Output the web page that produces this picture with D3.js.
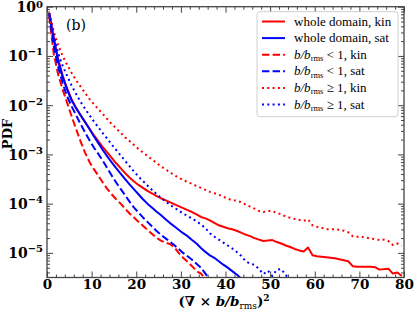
<!DOCTYPE html>
<html><head><meta charset="utf-8">
<script src="https://cdn.jsdelivr.net/npm/d3@7"></script>
<style>body{margin:0;background:#fff}</style>
</head><body>
<svg id="c" width="415" height="312"></svg>
<script>
// bin centres of the PDF histograms
const binCenters = [0.5,1.5,2.5,3.5,4.5,5.5,6.5,7.5,8.5,9.5,
 10.5,11.5,12.5,13.5,14.5,15.5,16.5,17.5,18.5,19.5,
 20.5,21.5,22.5,23.5,24.5,25.5,26.5,27.5,28.5,29.5,
 30.5,31.5,32.5,33.5,34.5,35.5,36.5,37.5,38.5,39.5,
 40.5,41.5,42.5,43.5,44.5,45.5,46.5,47.5,48.5,49.5,
 50.5,51.5,52.5,53.5,54.5,55.5,56.5,57.5,58.5,59.5,
 60.5,61.5,62.5,63.5,64.5,65.5,66.5,67.5,68.5,69.5,
 70.5,71.5,72.5,73.5,74.5,75.5,76.5,77.5,78.5,79.5];

// log10(PDF)
const log10WholeKin = [-0.13,-0.62,-1.07,-1.40,-1.66,-1.88,-2.05,-2.20,-2.34,-2.48,
 -2.61,-2.73,-2.85,-2.96,-3.07,-3.18,-3.28,-3.38,-3.47,-3.55,
 -3.62,-3.68,-3.74,-3.79,-3.84,-3.89,-3.93,-3.97,-4.01,-4.05,
 -4.09,-4.13,-4.17,-4.22,-4.27,-4.30,-4.34,-4.39,-4.44,-4.47,
 -4.50,-4.52,-4.55,-4.59,-4.63,-4.66,-4.70,-4.73,-4.76,-4.75,
 -4.74,-4.78,-4.81,-4.85,-4.88,-4.92,-4.95,-4.97,-4.89,-5.05,
 -5.07,-5.08,-5.09,-5.10,-5.11,-5.13,-5.15,-5.17,-5.27,-5.28,
 -5.28,-5.28,-5.28,-5.29,-5.34,-5.33,-5.32,-5.42,-5.40,-5.47];
const log10WholeSat = [-0.15,-0.65,-1.10,-1.42,-1.68,-1.90,-2.06,-2.20,-2.34,-2.48,
 -2.63,-2.77,-2.91,-3.04,-3.16,-3.28,-3.39,-3.50,-3.61,-3.71,
 -3.81,-3.91,-4.00,-4.08,-4.16,-4.23,-4.31,-4.39,-4.46,-4.53,
 -4.60,-4.66,-4.74,-4.81,-4.90,-4.98,-5.05,-5.10,-5.17,-5.24,
 -5.30,-5.37,-5.44,-5.52];
const log10WeakKin = [-0.20,-0.95,-1.38,-1.68,-1.95,-2.22,-2.48,-2.73,-2.96,-3.15,
 -3.30,-3.43,-3.57,-3.70,-3.81,-3.91,-4.00,-4.10,-4.20,-4.28,
 -4.37,-4.45,-4.53,-4.61,-4.69,-4.75,-4.79,-4.82,-4.88,-5.00,
 -5.10,-5.18,-5.27,-5.37,-5.42,-5.52];
const log10WeakSat = [-0.15,-0.80,-1.22,-1.55,-1.82,-2.02,-2.20,-2.38,-2.55,-2.71,
 -2.86,-2.99,-3.13,-3.28,-3.43,-3.57,-3.70,-3.83,-3.96,-4.08,
 -4.18,-4.28,-4.37,-4.46,-4.55,-4.63,-4.70,-4.77,-4.84,-4.92,
 -5.00,-5.07,-5.14,-5.22,-5.30,-5.42,-5.55];
const log10StrongKin = [-0.12,-0.50,-0.78,-1.00,-1.18,-1.34,-1.49,-1.62,-1.75,-1.87,
 -1.98,-2.08,-2.18,-2.28,-2.38,-2.47,-2.56,-2.65,-2.73,-2.81,
 -2.89,-2.96,-3.03,-3.10,-3.17,-3.24,-3.30,-3.36,-3.42,-3.47,
 -3.52,-3.56,-3.60,-3.64,-3.68,-3.72,-3.76,-3.79,-3.82,-3.86,
 -3.90,-3.93,-3.94,-3.97,-4.02,-4.06,-4.10,-4.15,-4.17,-4.15,
 -4.15,-4.19,-4.22,-4.26,-4.29,-4.31,-4.33,-4.35,-4.32,-4.44,
 -4.47,-4.49,-4.52,-4.52,-4.52,-4.53,-4.55,-4.58,-4.66,-4.67,
 -4.67,-4.69,-4.71,-4.72,-4.74,-4.73,-4.76,-4.84,-4.81,-4.85];
const log10StrongSat = [-0.13,-0.58,-0.95,-1.20,-1.40,-1.60,-1.77,-1.93,-2.07,-2.20,
 -2.33,-2.45,-2.57,-2.68,-2.80,-2.91,-3.02,-3.13,-3.24,-3.35,
 -3.45,-3.54,-3.63,-3.72,-3.80,-3.88,-3.95,-4.02,-4.08,-4.14,
 -4.20,-4.25,-4.30,-4.36,-4.42,-4.50,-4.60,-4.67,-4.73,-4.79,
 -4.85,-4.91,-4.98,-5.06,-5.17,-5.22,-5.24,-5.33,-5.43,-5.36,
 -5.47,-5.34,-5.33,-5.45,-5.55];

const xTicks = [0,10,20,30,40,50,60,70,80];
const yTickExps = [0,-1,-2,-3,-4,-5];
const legendLabels = [
  [["whole domain, kin",""]],
  [["whole domain, sat",""]],
  [["b/b","i"],["rms","s"],[" < 1, kin",""]],
  [["b/b","i"],["rms","s"],[" < 1, sat",""]],
  [["b/b","i"],["rms","s"],[" \u2265 1, kin",""]],
  [["b/b","i"],["rms","s"],[" \u2265 1, sat",""]]
];

const RED = "#ff0000", BLUE = "#0000ff";
const DASH = "7.4,3.2", DOT = "2,3.3";
const series = [
  {values: log10WholeKin, color: RED, dash: null},
  {values: log10WholeSat, color: BLUE, dash: null},
  {values: log10WeakKin, color: RED, dash: DASH},
  {values: log10WeakSat, color: BLUE, dash: DASH},
  {values: log10StrongKin, color: RED, dash: DOT},
  {values: log10StrongSat, color: BLUE, dash: DOT}
];

const svg = d3.select("#c");
const m = {l: 47, r: 404, t: 6.7, b: 277.5};
const x = d3.scaleLinear().domain([0, 80]).range([m.l, m.r]);
const y = d3.scaleLog().domain([Math.pow(10, -5.5), 1]).range([m.b, m.t]);
const SERIF = "'DejaVu Serif', serif";
const LSERIF = "'Liberation Serif', 'DejaVu Serif', serif";
const AX = "#444";

svg.append("defs").append("clipPath").attr("id", "clip")
  .append("rect").attr("x", m.l).attr("y", m.t).attr("width", m.r - m.l).attr("height", m.b - m.t);

// curves
const line = d3.line().x(d => x(d[0])).y(d => y(Math.pow(10, d[1])));
const gLines = svg.append("g").attr("clip-path", "url(#clip)");
series.forEach(s => {
  const pts = s.values.map((v, i) => [binCenters[i], v]);
  gLines.append("path").attr("d", line(pts))
    .attr("fill", "none").attr("stroke", s.color).attr("stroke-width", 2)
    .attr("stroke-linejoin", "round")
    .attr("stroke-dasharray", s.dash);
});

function clean(sel) {
  sel.select(".domain").remove();
  sel.selectAll(".tick line").attr("stroke", AX).attr("stroke-width", 1);
}
const xMinor = d3.range(0, 81, 2).filter(v => v % 10 !== 0);
const yMinor = [];
for (let e = -6; e < 0; e++) for (let k = 2; k <= 9; k++) {
  const v = k * Math.pow(10, e);
  if (v > y.domain()[0] && v < 1) yMinor.push(v);
}
const yMajor = yTickExps.map(e => Math.pow(10, e));

// bottom
const gb = svg.append("g").attr("transform", `translate(0,${m.b})`)
  .call(d3.axisBottom(x).tickValues(xTicks).tickSize(-6).tickPadding(2).tickFormat(d3.format("d")));
clean(gb);
gb.selectAll("text").attr("font-family", SERIF).attr("font-weight", "bold").attr("font-size", 13.5).attr("fill", "#000");
clean(svg.append("g").attr("transform", `translate(0,${m.b})`)
  .call(d3.axisBottom(x).tickValues(xMinor).tickSize(-3).tickFormat("")));
// top
clean(svg.append("g").attr("transform", `translate(0,${m.t})`)
  .call(d3.axisTop(x).tickValues(xTicks).tickSize(-6).tickFormat("")));
clean(svg.append("g").attr("transform", `translate(0,${m.t})`)
  .call(d3.axisTop(x).tickValues(xMinor).tickSize(-3).tickFormat("")));
// left
const gl = svg.append("g").attr("transform", `translate(${m.l},0)`)
  .call(d3.axisLeft(y).tickValues(yMajor).tickSize(-6).tickPadding(4).tickFormat(""));
clean(gl);
gl.selectAll(".tick text").remove();
gl.selectAll(".tick").each(function(d) {
  const t = d3.select(this).append("text")
    .attr("x", -4).attr("dy", "0.36em").attr("text-anchor", "end")
    .attr("font-family", SERIF).attr("font-weight", "bold").attr("font-size", 14).attr("fill", "#000");
  const e = Math.round(Math.log10(d));
  t.append("tspan").text("10");
  t.append("tspan").attr("font-size", 10).attr("dy", e === 0 ? "-4.5" : "-6").text(e === 0 ? "0" : "\u2212" + Math.abs(e));
});
clean(svg.append("g").attr("transform", `translate(${m.l},0)`)
  .call(d3.axisLeft(y).tickValues(yMinor).tickSize(-3).tickFormat("")));
// right
clean(svg.append("g").attr("transform", `translate(${m.r},0)`)
  .call(d3.axisRight(y).tickValues(yMajor).tickSize(-6).tickFormat("")));
clean(svg.append("g").attr("transform", `translate(${m.r},0)`)
  .call(d3.axisRight(y).tickValues(yMinor).tickSize(-3).tickFormat("")));

// frame
svg.append("rect").attr("x", m.l).attr("y", m.t).attr("width", m.r - m.l).attr("height", m.b - m.t)
  .attr("fill", "none").attr("stroke", AX).attr("stroke-width", 1.3);

// panel label
svg.append("text").attr("x", 66).attr("y", 30).attr("font-family", SERIF).attr("font-size", 14).text("(b)");

// axis titles
svg.append("text").attr("transform", "translate(12,134) rotate(-90)")
  .attr("text-anchor", "middle").attr("font-family", SERIF).attr("font-weight", "bold").attr("font-size", 13).text("PDF");
const xt = svg.append("text").attr("x", 224).attr("y", 305.5).attr("text-anchor", "middle")
  .attr("font-family", SERIF).attr("font-weight", "bold").attr("font-size", 13.5);
xt.append("tspan").text("(\u2207 \u00d7 ");
xt.append("tspan").attr("font-style", "italic").text("b/b");
xt.append("tspan").attr("font-size", 9).attr("font-weight", "normal").attr("dy", 3).text("rms");
xt.append("tspan").attr("dy", -3).text(")");
xt.append("tspan").attr("font-size", 9).attr("dy", -5).text("2");

// legend
const lg = svg.append("g");
lg.append("rect").attr("x", 257).attr("y", 11.7).attr("width", 141).attr("height", 105).attr("rx", 3)
  .attr("fill", "#fff").attr("fill-opacity", 0.85).attr("stroke", "#d0d0d0").attr("stroke-width", 1);
series.forEach((s, i) => {
  const yy = 21.5 + i * 16.6;
  lg.append("line").attr("x1", 262).attr("x2", 285).attr("y1", yy).attr("y2", yy)
    .attr("stroke", s.color).attr("stroke-width", 2).attr("stroke-dasharray", s.dash);
  const t = lg.append("text").attr("x", 294).attr("y", yy + 4).attr("font-family", LSERIF).attr("font-size", 13);
  let shifted = false;
  legendLabels[i].forEach(([txt, kind]) => {
    const sp = t.append("tspan").text(txt);
    if (kind === "i") sp.attr("font-style", "italic");
    if (kind === "s") { sp.attr("font-size", 8.5).attr("dy", 2.5); shifted = true; }
    else if (shifted) { sp.attr("dy", -2.5); shifted = false; }
  });
});
</script>
</body></html>
